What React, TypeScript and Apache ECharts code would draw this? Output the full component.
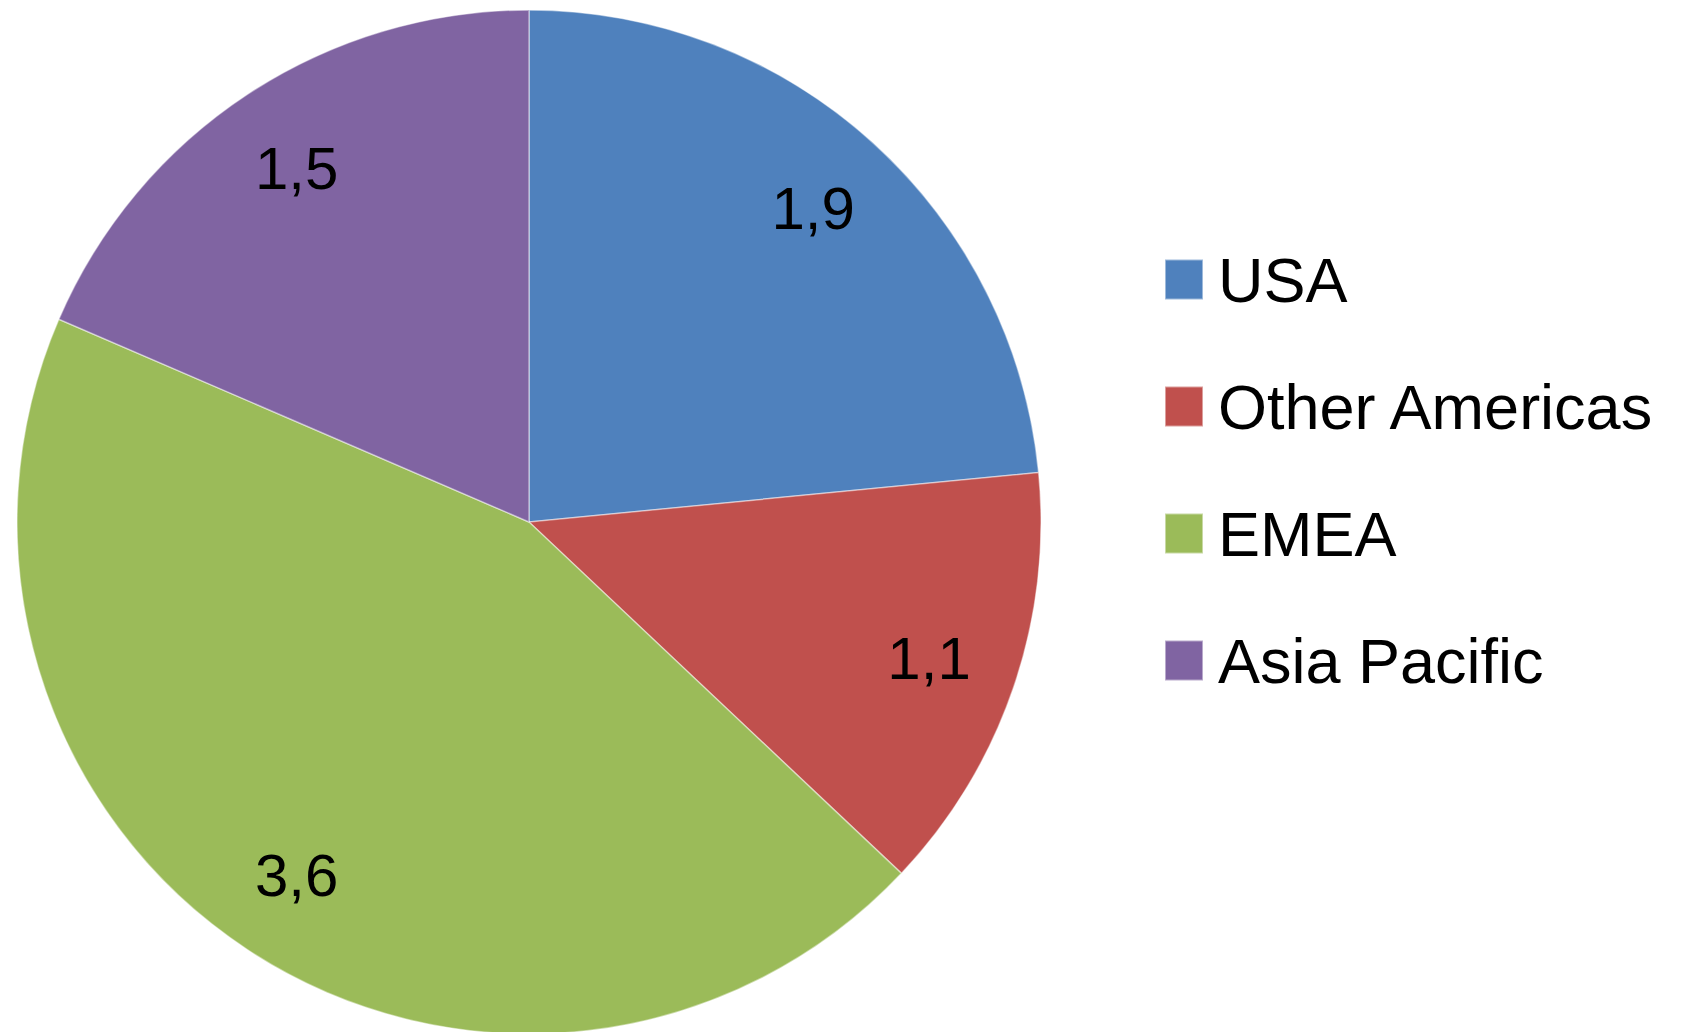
import React, { useEffect, useRef } from "react";
import * as echarts from "echarts";

const categories = ["USA", "Other Americas", "EMEA", "Asia Pacific"];
const values = [1.9, 1.1, 3.6, 1.5];
const valueLabels = ["1,9", "1,1", "3,6", "1,5"];
const colors = ["#4F81BD", "#C0504D", "#9BBB59", "#8064A2"];

export default function App() {
  const ref = useRef<HTMLDivElement>(null);
  useEffect(() => {
    document.body.style.margin = "0";
    const chart = echarts.init(ref.current!, null, { renderer: "svg" });
    const data = categories.map((name, i) => ({
      name,
      value: values[i],
      itemStyle: { color: colors[i] },
    }));
    const R = 512;
    chart.setOption({
      animation: false,
      backgroundColor: "#ffffff",
      legend: {
        orient: "vertical",
        left: 1159,
        top: 243,
        itemWidth: 38,
        itemHeight: 40,
        itemGap: 64,
        icon: "rect",
        data: categories,
        selectedMode: false,
        textStyle: {
          fontFamily: "Liberation Sans",
          fontSize: 63,
          color: "#000000",
          padding: [0, 0, 0, 10],
        },
      },
      series: [
        {
          type: "pie",
          center: [529, 522],
          radius: [0, R],
          startAngle: 90,
          clockwise: true,
          data,
          label: { show: false },
          labelLine: { show: false },
          itemStyle: { borderColor: "rgba(255,255,255,0.45)", borderWidth: 1.5 },
          silent: true,
        },
        {
          type: "pie",
          center: [529, 522],
          radius: [0, R * 1.64],
          startAngle: 90,
          clockwise: true,
          silent: true,
          data: categories.map((name, i) => ({
            name,
            value: values[i],
            itemStyle: { color: "rgba(0,0,0,0)" },
          })),
          itemStyle: { borderWidth: 0 },
          label: {
            show: true,
            position: "inside",
            formatter: (p: any) => valueLabels[p.dataIndex],
            fontFamily: "Liberation Sans",
            fontSize: 60,
            color: "#000000",
          },
          labelLine: { show: false },
          emphasis: { disabled: true },
        },
      ],
    });
    return () => chart.dispose();
  }, []);
  return <div ref={ref} style={{ width: 1682, height: 1032 }} />;
}
